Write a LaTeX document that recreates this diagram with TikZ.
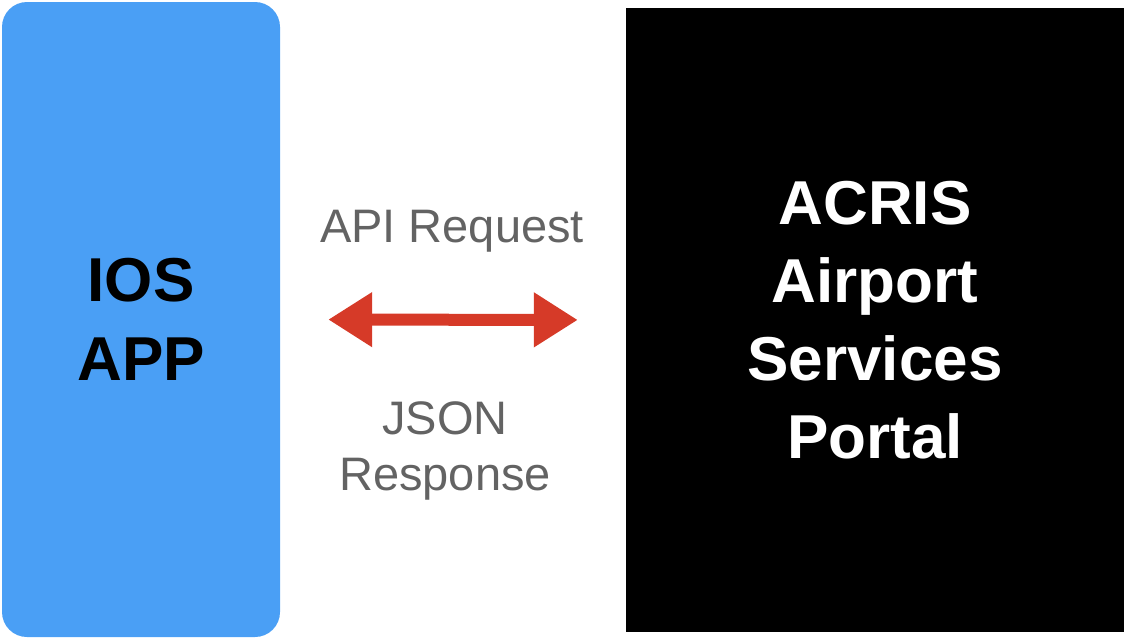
\documentclass[tikz,border=0pt]{standalone}
\usepackage{fontspec}
\setmainfont{Liberation Sans}
\usepackage{tikz}
\usetikzlibrary{calc, positioning}
\usetikzlibrary{arrows.meta}
\tikzset{>=stealth}
\usepackage{xcolor}
\definecolor{iosblue}{HTML}{4A9FF5}
\definecolor{arrowred}{HTML}{D63A28}
\definecolor{msggray}{HTML}{636363}

\begin{document}
\begin{tikzpicture}[x=1pt, y=-1pt,
		appbox/.style={fill=iosblue, rounded corners=25pt, minimum width=278pt, minimum height=635pt, align=center, font=\fontsize{62}{79}\selectfont\bfseries},
		portalbox/.style={fill=black, text=white, minimum width=498pt, minimum height=624pt, align=center, font=\fontsize{62}{78}\selectfont\bfseries},
		msgtext/.style={text=msggray, align=center, inner sep=0pt, font=\fontsize{47}{56}\selectfont},
		apiarrow/.style={line width=12pt, arrowred, {Triangle[length=44pt, width=52pt]}-{Triangle[length=44pt, width=52pt]}, shorten <=48pt, shorten >=48pt}]
				\useasboundingbox (0,0) rectangle (1126,640);
				\node[appbox] (ios) at (141,319.5) {IOS\\APP};
				\node[portalbox] (acris) at (875,320) {ACRIS\\Airport\\Services\\Portal};
				\draw [apiarrow] (ios.east) -- (acris.west);
				\node[msgtext, anchor=base] (request) at (452,242) {API Request};
				\node[msgtext] (response) at (445,451) {JSON\\Response};
			\end{tikzpicture}
\end{document}
